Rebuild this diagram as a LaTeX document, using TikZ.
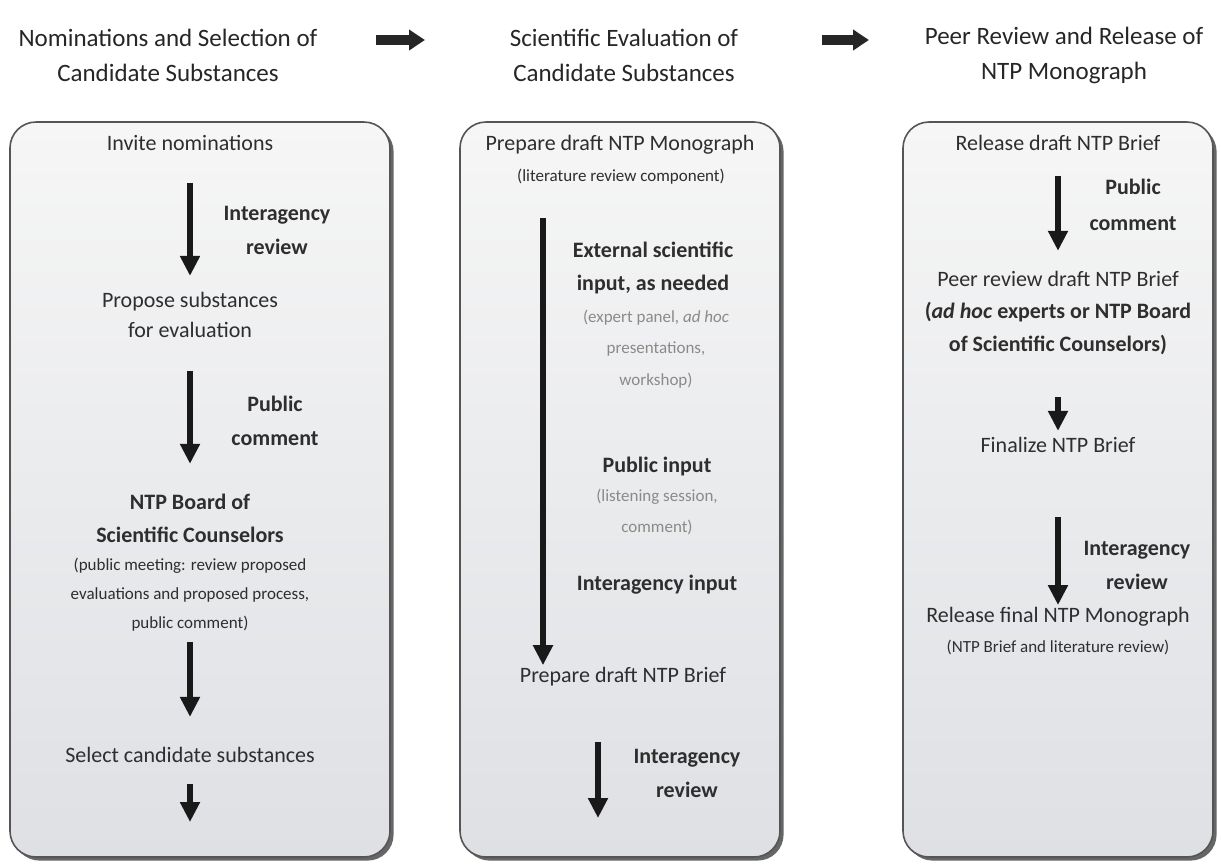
\documentclass[tikz,border=0pt]{standalone}
\usepackage{fontspec}
\setmainfont{Carlito}
\usetikzlibrary{arrows.meta,shadows}

\definecolor{txt}{HTML}{2E2E2E}
\definecolor{subtxt}{HTML}{8A8A8A}
\definecolor{paneltop}{HTML}{F6F6F6}
\definecolor{panelbot}{HTML}{DEE0E4}
\definecolor{edge}{HTML}{555555}

\begin{document}
\begin{tikzpicture}[x=0.5pt,y=-0.5pt,
  panel/.style={draw=edge,line width=0.8pt,rounded corners=13pt,
    top color=paneltop,bottom color=panelbot,
    drop shadow={shadow xshift=1.8pt,shadow yshift=-1.8pt,fill=black!60,opacity=1}},
  hdr/.style={font=\fontsize{12.5}{17.5}\selectfont,text=black!85,align=center,inner sep=0pt},
  entry/.style={font=\fontsize{11}{15}\selectfont,text=txt,align=center,inner sep=0pt},
  lbl/.style={font=\bfseries\fontsize{11}{17}\selectfont,text=txt,align=center,inner sep=0pt},
  note/.style={font=\fontsize{8.5}{14.5}\selectfont,text=txt,align=center,inner sep=0pt},
  pale/.style={note,text=subtxt,font=\fontsize{8.5}{15.75}\selectfont},
  arr/.style={-{Triangle[width=9.5pt,length=10pt]},line width=2.7pt,black!90},
  fat/.style={-{Triangle[width=10pt,length=8pt]},line width=5pt,black!85}
]
\useasboundingbox (0,0) rectangle (1221,863);

% headers
\node[hdr] (h1) at (168,55) {Nominations and Selection of\\Candidate Substances};
\node[hdr] (h2) at (624,55) {Scientific Evaluation of\\Candidate Substances};
\node[hdr] (h3) at (1064,55) {Peer Review and Release of\\NTP Monograph};
\coordinate (a1) at (376,40);
\coordinate (a2) at (425,40);
\coordinate (a3) at (822,40);
\coordinate (a4) at (869,40);
\draw[fat] (a1) -- (a2);
\draw[fat] (a3) -- (a4);

% panels
\node[panel,minimum width=190pt,minimum height=367.5pt] (box1) at (200,489.5) {};
\node[panel,minimum width=160pt,minimum height=367.5pt] (box2) at (620,489.5) {};
\node[panel,minimum width=155pt,minimum height=367.5pt] (box3) at (1058,489.5) {};

% nominations and selection
\node[entry] (inv) at (190,143) {Invite nominations};
\node[entry] (prop) at (190,315) {Propose substances\\for evaluation};
\node[lbl,font=\bfseries\fontsize{11}{16.5}\selectfont] (ntpb) at (190,518.5) {NTP Board of\\Scientific Counselors};
\node[note] (meet) at (190,595) {(public meeting: review proposed\\evaluations and proposed process,\\public comment)};
\node[entry] (sel) at (190,755) {Select candidate substances};
\coordinate (end1) at (190,822);
\draw[arr,shorten <=16pt,shorten >=8pt] (inv) -- (prop);
\node[lbl] (iar1) at (277,230) {Interagency\\review};
\draw[arr,shorten <=16.5pt,shorten >=15pt] (prop) -- (ntpb);
\node[lbl] (pc1) at (275,421) {Public\\comment};
\draw[arr,shorten <=5pt,shorten >=15pt] (meet) -- (sel);
\draw[arr,shorten <=10.5pt] (sel) -- (end1);

% scientific evaluation
\node[entry] (mono) at (620,145) {Prepare draft NTP Monograph};
\node[note] (lit) at (621,177) {(literature review component)};
\node[lbl,font=\bfseries\fontsize{11}{16.5}\selectfont] (ext) at (653,268) {External scientific\\input, as needed};
\node[pale] (expert) at (656,349) {(expert panel, \textit{ad hoc}\\presentations,\\workshop)};
\node[lbl] (pubin) at (657,467) {Public input};
\node[pale] (listen) at (657,512) {(listening session,\\comment)};
\node[lbl] (iain) at (657,585) {Interagency input};
\node[entry] (brief) at (623,677) {Prepare draft NTP Brief};
\coordinate (ltop) at (543,218);
\draw[arr,shorten >=1pt] (ltop) -- (ltop |- brief.north);
\coordinate (b2a) at (598,742);
\coordinate (b2b) at (598,818);
\draw[arr] (b2a) -- (b2b);
\node[lbl] (iar2) at (687,773) {Interagency\\review};

% peer review and release
\node[entry] (rdb) at (1058,143) {Release draft NTP Brief};
\node[entry,font=\fontsize{11}{16.25}\selectfont] (peer) at (1058,313) {Peer review draft NTP Brief\\\textbf{(\textit{ad hoc} experts or NTP Board}\\\textbf{of Scientific Counselors)}};
\node[entry] (fin) at (1058,445) {Finalize NTP Brief};
\node[entry] (rel) at (1058,617) {Release final NTP Monograph};
\node[note] (relnote) at (1058,647) {(NTP Brief and literature review)};
\draw[arr,shorten <=12.4pt,shorten >=10pt] (rdb) -- (peer);
\node[lbl,font=\bfseries\fontsize{11}{18}\selectfont] (pc3) at (1133,205) {Public\\comment};
\draw[arr,shorten <=21pt,shorten >=3pt] (peer) -- (fin);
\draw[arr,shorten <=32pt,shorten >=1pt] (fin) -- (rel);
\node[lbl] (iar3) at (1137,565) {Interagency\\review};
\end{tikzpicture}
\end{document}
